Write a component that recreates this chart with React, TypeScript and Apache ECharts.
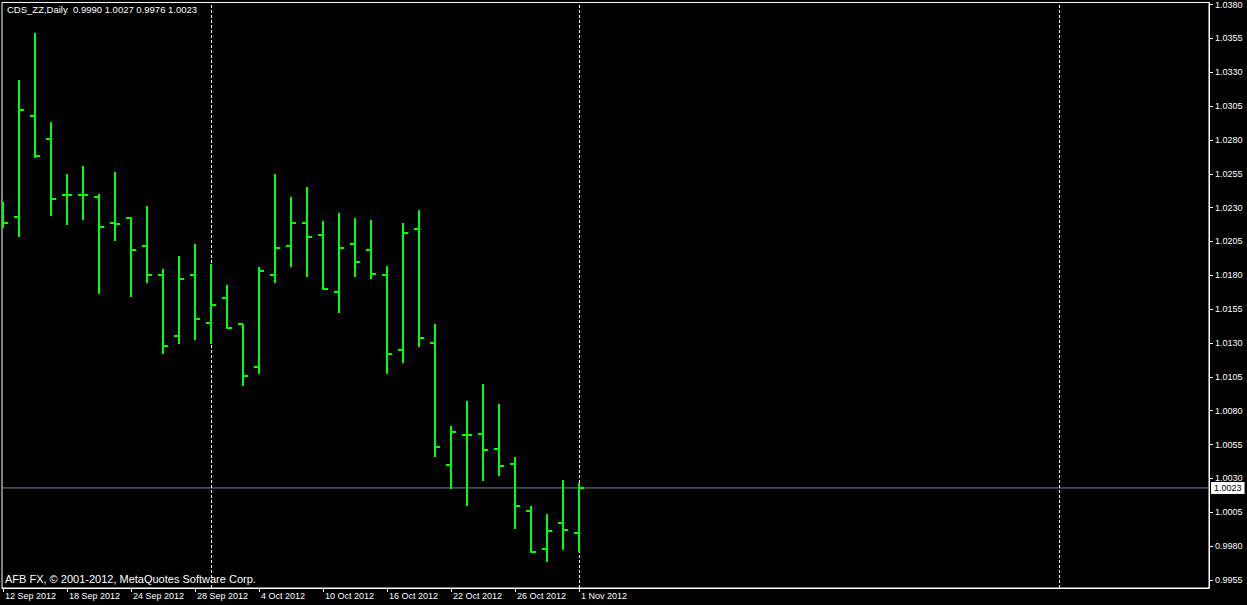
import React, { useEffect, useRef } from "react";
import * as echarts from "echarts";

const dates = [
  "12 Sep 2012", "13 Sep 2012", "14 Sep 2012", "17 Sep 2012", "18 Sep 2012", "19 Sep 2012",
  "20 Sep 2012", "21 Sep 2012", "24 Sep 2012", "25 Sep 2012", "26 Sep 2012", "27 Sep 2012",
  "28 Sep 2012", "1 Oct 2012", "2 Oct 2012", "3 Oct 2012", "4 Oct 2012", "5 Oct 2012",
  "8 Oct 2012", "9 Oct 2012", "10 Oct 2012", "11 Oct 2012", "12 Oct 2012", "15 Oct 2012",
  "16 Oct 2012", "17 Oct 2012", "18 Oct 2012", "19 Oct 2012", "22 Oct 2012", "23 Oct 2012",
  "24 Oct 2012", "25 Oct 2012", "26 Oct 2012", "29 Oct 2012", "30 Oct 2012", "31 Oct 2012",
  "1 Nov 2012",
];
const opens = [
  1.0228, 1.0223, 1.0298, 1.0281, 1.0239, 1.0239, 1.0238, 1.0219, 1.0222, 1.0202, 1.018, 1.0135,
  1.018, 1.0145, 1.0163, 1.0144, 1.0112, 1.018, 1.0202, 1.0219, 1.021, 1.0168, 1.0203, 1.0199,
  1.018, 1.0125, 1.0214, 1.013, 1.004, 1.0062, 1.0063, 1.0052, 1.0041, 1.0006, 0.9978, 0.9997,
  0.999,
];
const highs = [
  1.0234, 1.0324, 1.0359, 1.0293, 1.0255, 1.0261, 1.024, 1.0256, 1.0223, 1.0231, 1.0185, 1.0194,
  1.0203, 1.0188, 1.0173, 1.0144, 1.0186, 1.0255, 1.0238, 1.0245, 1.022, 1.0226, 1.0222, 1.0221,
  1.0187, 1.0219, 1.0228, 1.0144, 1.0069, 1.0087, 1.01, 1.0085, 1.0046, 1.001, 1.0004, 1.0029,
  1.0027,
];
const lows = [
  1.0215, 1.0208, 1.0267, 1.0224, 1.0217, 1.0221, 1.0166, 1.0205, 1.0164, 1.0174, 1.0122, 1.0129,
  1.0132, 1.0129, 1.014, 1.0098, 1.0107, 1.0174, 1.0186, 1.0179, 1.0169, 1.0152, 1.0179, 1.0177,
  1.0107, 1.0115, 1.0127, 1.0046, 1.0022, 1.001, 1.0028, 1.0032, 0.9993, 0.9975, 0.9968, 0.9977,
  0.9976,
];
const closes = [
  1.0219, 1.0302, 1.0268, 1.0236, 1.0239, 1.0239, 1.0216, 1.0218, 1.0199, 1.018, 1.0128, 1.0177,
  1.0148, 1.0158, 1.0141, 1.0106, 1.0183, 1.02, 1.0219, 1.0208, 1.017, 1.02, 1.019, 1.0181, 1.0122,
  1.0211, 1.0134, 1.0053, 1.0064, 1.0062, 1.0051, 1.0039, 1.001, 0.9976, 0.9991, 0.9992, 1.0023,
];
const yTicks = [
  0.9955, 0.998, 1.0005, 1.003, 1.0055, 1.008, 1.0105, 1.013, 1.0155, 1.018, 1.0205, 1.023,
  1.0255, 1.028, 1.0305, 1.033, 1.0355, 1.038,
];
const xTickIndices = [0, 4, 8, 12, 16, 20, 24, 28, 32, 36];
const monthSeparators = [13, 36, 66];

const X_MIN = -0.0625;
const X_MAX = 75.375;
const FONT = "'Liberation Sans', Arial, sans-serif";
const GREEN = "#00ff00";

export default function App() {
  const ref = useRef<HTMLDivElement>(null);
  useEffect(() => {
    if (!ref.current) return;
    const chart = echarts.init(ref.current, undefined, { renderer: "svg" });
    const n = dates.length;
    const last = n - 1;
    const lastClose = closes[last];
    const ohlc = dates.map((_, i) => [i, opens[i], closes[i], lows[i], highs[i]]);
    const option: any = {
      animation: false,
      backgroundColor: "#000",
      textStyle: { fontFamily: FONT },
      grid: {
        left: 2,
        right: 38,
        top: 2,
        bottom: 17,
        show: true,
        borderColor: "#fff",
        borderWidth: 1,
        backgroundColor: "#000",
      },
      xAxis: {
        type: "value",
        min: X_MIN,
        max: X_MAX,
        splitLine: { show: false },
        axisLine: { show: true, lineStyle: { color: "#fff", width: 1 } },
        axisTick: {
          show: true,
          customValues: xTickIndices,
          length: 4,
          lineStyle: { color: "#fff" },
        },
        axisLabel: {
          show: true,
          customValues: xTickIndices,
          formatter: (v: number) => dates[Math.round(v)] || "",
          color: "#fff",
          fontSize: 9,
          fontFamily: FONT,
          align: "left",
          margin: 3,
          padding: [0, 0, 0, 2],
        },
      },
      yAxis: {
        type: "value",
        position: "right",
        min: 0.99491,
        max: 1.03815,
        scale: true,
        splitLine: { show: false },
        axisLine: { show: true, onZero: false, lineStyle: { color: "#fff", width: 1 } },
        axisTick: {
          show: true,
          customValues: yTicks,
          length: 4,
          lineStyle: { color: "#fff" },
        },
        axisLabel: {
          show: true,
          customValues: yTicks,
          formatter: (v: number) => v.toFixed(4),
          color: "#fff",
          fontSize: 9,
          fontFamily: FONT,
          margin: 6,
        },
      },
      series: [
        {
          type: "line",
          z: 1,
          silent: true,
          symbol: "none",
          data: [],
          markLine: {
            symbol: "none",
            silent: true,
            animation: false,
            label: { show: false },
            data: monthSeparators.map((x) => ({
              xAxis: x,
              lineStyle: { color: "#fff", type: [3, 2], width: 1 },
            })),
          },
        },
        {
          type: "line",
          z: 2,
          silent: true,
          symbol: "none",
          data: [
            [X_MIN, lastClose],
            [X_MAX, lastClose],
          ],
          lineStyle: { color: "#778899", width: 1 },
          endLabel: {
            show: true,
            formatter: () => lastClose.toFixed(4),
            backgroundColor: "#fff",
            color: "#000",
            fontSize: 9,
            fontFamily: FONT,
            padding: [2, 3, 1, 3],
            distance: 2,
          },
        },
        {
          type: "custom",
          z: 5,
          clip: true,
          data: ohlc,
          encode: { x: 0, y: [1, 2, 3, 4] },
          renderItem: (params: any, api: any) => {
            const x = api.value(0);
            const pO = api.coord([x, api.value(1)]);
            const pC = api.coord([x, api.value(2)]);
            const pL = api.coord([x, api.value(3)]);
            const pH = api.coord([x, api.value(4)]);
            const px = Math.round(pH[0]);
            const style = { stroke: GREEN, lineWidth: 2 };
            const yo = Math.round(pO[1]);
            const yc = Math.round(pC[1]);
            return {
              type: "group",
              children: [
                {
                  type: "line",
                  shape: { x1: px, y1: Math.round(pH[1]), x2: px, y2: Math.round(pL[1]) },
                  style,
                },
                { type: "line", shape: { x1: px - 5, y1: yo, x2: px, y2: yo }, style },
                { type: "line", shape: { x1: px, y1: yc, x2: px + 5, y2: yc }, style },
              ],
            };
          },
        },
      ],
      graphic: [
        {
          type: "text",
          left: 7,
          top: 4,
          style: {
            text: `CDS_ZZ,Daily  ${opens[last].toFixed(4)} ${highs[last].toFixed(4)} ${lows[last].toFixed(4)} ${closes[last].toFixed(4)}`,
            fill: "#fff",
            font: `9.5px ${FONT}`,
          },
        },
        {
          type: "text",
          left: 5,
          top: 573,
          style: {
            text: "AFB FX, © 2001-2012, MetaQuotes Software Corp.",
            fill: "#fff",
            font: `11px ${FONT}`,
          },
        },
      ],
    };
    chart.setOption(option);
    return () => chart.dispose();
  }, []);
  return (
    <div
      ref={ref}
      style={{ position: "fixed", left: 0, top: 0, width: 1247, height: 605, background: "#000" }}
    />
  );
}
